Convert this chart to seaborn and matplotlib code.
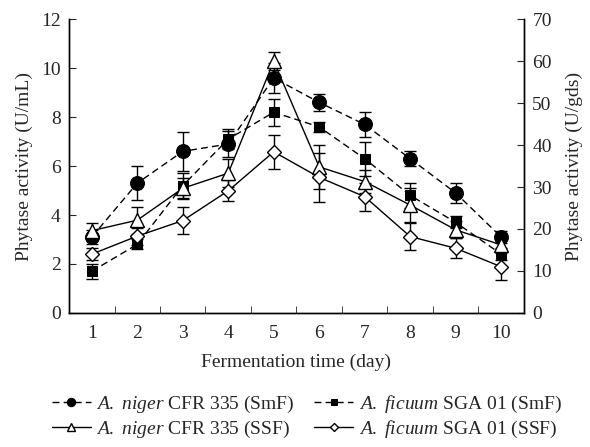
import matplotlib
matplotlib.use("Agg")
import matplotlib.pyplot as plt
import seaborn as sns

# datos
days = [1, 2, 3, 4, 5, 6, 7, 8, 9, 10]
niger_smf = [3.1, 5.3, 6.6, 6.9, 9.6, 8.6, 7.7, 6.3, 4.9, 3.1]
niger_smf_err = [0.3, 0.7, 0.8, 0.55, 0.6, 0.35, 0.5, 0.3, 0.4, 0.25]
ficuum_smf = [1.7, 2.8, 5.2, 7.1, 8.2, 7.6, 6.3, 4.8, 3.7, 2.4]
ficuum_smf_err = [0.3, 0.2, 0.5, 0.4, 0.55, 0.2, 0.7, 0.5, 0.25, 0.25]
niger_ssf = [19.6, 22.1, 29.7, 33.3, 60.0, 34.8, 31.3, 25.7, 19.8, 16.2]
niger_ssf_err = [1.9, 3.2, 2.5, 3.3, 2.2, 5.3, 2.8, 4.0, 2.0, 1.5]
ficuum_ssf = [14.0, 18.3, 22.0, 29.1, 38.4, 32.3, 27.7, 18.2, 15.4, 11.0]
ficuum_ssf_err = [1.5, 2.0, 3.3, 2.5, 4.0, 5.8, 3.3, 3.3, 2.4, 3.2]

labels = [r"$\mathit{A.}$ $\mathit{niger}$ CFR 335 (SmF)",
          r"$\mathit{A.}$ $\mathit{ficuum}$ SGA 01 (SmF)",
          r"$\mathit{A.}$ $\mathit{niger}$ CFR 335 (SSF)",
          r"$\mathit{A.}$ $\mathit{ficuum}$ SGA 01 (SSF)"]

sns.set_style("ticks")
plt.rcParams['font.family'] = ['Liberation Serif', 'DejaVu Serif']
plt.rcParams['mathtext.fontset'] = 'custom'
plt.rcParams['mathtext.it'] = 'Liberation Serif:italic'
plt.rcParams['mathtext.rm'] = 'Liberation Serif'

fs = 14

fig = plt.figure(figsize=(5.9, 4.47), dpi=100)
ax = fig.add_axes([0.117, 0.300, 0.771, 0.657])
ax2 = ax.twinx()

dash = (0, (5, 3))
# SmF en el eje izquierdo
ax.errorbar(days, niger_smf, yerr=niger_smf_err, fmt='none', ecolor='black',
            elinewidth=1, capsize=4, zorder=2)
ax.errorbar(days, ficuum_smf, yerr=ficuum_smf_err, fmt='none', ecolor='black',
            elinewidth=1, capsize=4, zorder=2)
sns.lineplot(x=days, y=niger_smf, ax=ax, color='black', linestyle=dash, lw=1,
             marker='o', markersize=10, markerfacecolor='black', markeredgecolor='black',
             label=labels[0], zorder=3)
sns.lineplot(x=days, y=ficuum_smf, ax=ax, color='black', linestyle=dash, lw=1,
             marker='s', markersize=7.5, markerfacecolor='black', markeredgecolor='black',
             label=labels[1], zorder=3)

# SSF en el eje derecho
ax2.errorbar(days, niger_ssf, yerr=niger_ssf_err, fmt='none', ecolor='black',
             elinewidth=1, capsize=4, zorder=2)
ax2.errorbar(days, ficuum_ssf, yerr=ficuum_ssf_err, fmt='none', ecolor='black',
             elinewidth=1, capsize=4, zorder=2)
sns.lineplot(x=days, y=niger_ssf, ax=ax2, color='black', lw=1,
             marker='^', markersize=10, markerfacecolor='white', markeredgecolor='black',
             markeredgewidth=1, label=labels[2], zorder=3)
sns.lineplot(x=days, y=ficuum_ssf, ax=ax2, color='black', lw=1,
             marker='D', markersize=7.5, markerfacecolor='white', markeredgecolor='black',
             markeredgewidth=1, label=labels[3], zorder=3)

ax.set_xlim(0.5, 10.5)
ax.set_ylim(0, 12)
ax2.set_ylim(0, 70)
ax.set_xticks(days)
ax.set_xticks([d + 0.5 for d in days[:-1]], minor=True)
ax.tick_params(axis='x', which='major', length=0, labelsize=fs, pad=9)
ax.tick_params(axis='x', which='minor', direction='in', length=5)
ax.set_yticks(range(0, 13, 2))
ax.tick_params(axis='y', direction='in', length=5, labelsize=fs, pad=6)
ax2.set_yticks(range(0, 71, 10))
ax2.tick_params(axis='y', direction='in', length=5, labelsize=fs, pad=6)

for a in (ax, ax2):
    a.spines['top'].set_visible(False)
    for s in ('left', 'right', 'bottom'):
        a.spines[s].set_linewidth(1)
        a.spines[s].set_color('black')

ax.set_xlabel('Fermentation time (day)', fontsize=fs, labelpad=8)
ax.set_ylabel('Phytase activity (U/mL)', fontsize=fs, labelpad=6)
ax2.set_ylabel('Phytase activity (U/gds)', fontsize=fs, labelpad=10)

h1, l1 = ax.get_legend_handles_labels()
h2, l2 = ax2.get_legend_handles_labels()
if ax.get_legend():
    ax.get_legend().remove()
if ax2.get_legend():
    ax2.get_legend().remove()
handles = [h1[0], h2[0], h1[1], h2[1]]
leg_labels = [l1[0], l2[0], l1[1], l2[1]]
fig.legend(handles, leg_labels, ncol=2, loc='center', bbox_to_anchor=(0.52, 0.067),
           frameon=False, fontsize=fs, handlelength=2.0, columnspacing=1.0,
           handletextpad=0.3, labelspacing=0.2, markerscale=0.6)

plt.savefig("out.png", dpi=100)
plt.close()
